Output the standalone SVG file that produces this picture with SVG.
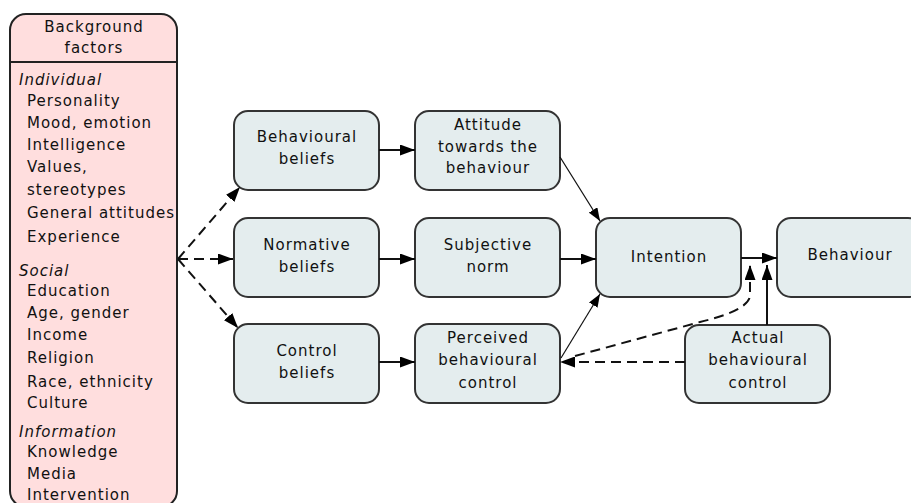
<svg xmlns="http://www.w3.org/2000/svg" width="911" height="503" viewBox="0 0 911 503">
<defs>
<marker id="ah" viewBox="0 0 15 11" refX="15" refY="5.5" markerWidth="15" markerHeight="11" markerUnits="userSpaceOnUse" orient="auto">
<path d="M0,0 L15,5.5 L0,11 z" fill="#000"/>
</marker>
<marker id="ahs" viewBox="0 0 13 10" refX="13" refY="5" markerWidth="13" markerHeight="10" markerUnits="userSpaceOnUse" orient="auto">
<path d="M0,0 L13,5 L0,10 z" fill="#000"/>
</marker>
</defs>
<style>
.node rect{fill:#e4edee;stroke:#333;stroke-width:2}
.bg{fill:#ffdede;stroke:#222;stroke-width:2}
text{font-family:"DejaVu Sans","Liberation Sans",sans-serif;font-size:15px;letter-spacing:1px;fill:#111}
.c{text-anchor:middle}
.i{font-style:italic}
.con{fill:none;stroke:#111}
.solid{stroke-width:2}
.thin{stroke-width:1.2}
.dash{stroke-width:2;stroke-dasharray:10,6}
</style>
<rect width="911" height="503" fill="#fff"/>
<g id="background-factors">
<rect class="bg" x="10" y="14" width="167" height="493" rx="16"/>
<line x1="10" y1="62" x2="177" y2="62" stroke="#222" stroke-width="2"/>
<text class="c" x="94" y="32">Background</text>
<text class="c" x="94" y="53">factors</text>
<text class="i" x="19" y="85">Individual</text>
<text x="27" y="106">Personality</text>
<text x="27" y="128">Mood, emotion</text>
<text x="27" y="150">Intelligence</text>
<text x="27" y="172">Values,</text>
<text x="27" y="195">stereotypes</text>
<text x="27" y="218">General attitudes</text>
<text x="27" y="242">Experience</text>
<text class="i" x="19" y="276">Social</text>
<text x="27" y="296">Education</text>
<text x="27" y="318">Age, gender</text>
<text x="27" y="340">Income</text>
<text x="27" y="363">Religion</text>
<text x="27" y="387">Race, ethnicity</text>
<text x="27" y="408">Culture</text>
<text class="i" x="19" y="437">Information</text>
<text x="27" y="457">Knowledge</text>
<text x="27" y="479">Media</text>
<text x="27" y="500">Intervention</text>
</g>
<g id="behavioural-beliefs" class="node">
<rect x="234" y="111" width="145" height="79" rx="14"/>
<text class="c" x="307" y="142">Behavioural</text>
<text class="c" x="307" y="164">beliefs</text>
</g>
<g id="attitude" class="node">
<rect x="415" y="111" width="145" height="79" rx="14"/>
<text class="c" x="488" y="130">Attitude</text>
<text class="c" x="488" y="152">towards the</text>
<text class="c" x="488" y="173">behaviour</text>
</g>
<g id="normative-beliefs" class="node">
<rect x="234" y="218" width="145" height="79" rx="14"/>
<text class="c" x="307" y="250">Normative</text>
<text class="c" x="307" y="272">beliefs</text>
</g>
<g id="subjective-norm" class="node">
<rect x="415" y="218" width="145" height="79" rx="14"/>
<text class="c" x="488" y="250">Subjective</text>
<text class="c" x="488" y="272">norm</text>
</g>
<g id="control-beliefs" class="node">
<rect x="234" y="324" width="145" height="79" rx="14"/>
<text class="c" x="307" y="356">Control</text>
<text class="c" x="307" y="378">beliefs</text>
</g>
<g id="perceived-control" class="node">
<rect x="415" y="324" width="145" height="79" rx="14"/>
<text class="c" x="488" y="343">Perceived</text>
<text class="c" x="488" y="365">behavioural</text>
<text class="c" x="488" y="388">control</text>
</g>
<g id="intention" class="node">
<rect x="596" y="218" width="145" height="79" rx="14"/>
<text class="c" x="669" y="262">Intention</text>
</g>
<g id="behaviour" class="node">
<rect x="777" y="218" width="145" height="79" rx="14"/>
<text class="c" x="850" y="260">Behaviour</text>
</g>
<g id="actual-control" class="node">
<rect x="685" y="325" width="145" height="78" rx="14"/>
<text class="c" x="758" y="343">Actual</text>
<text class="c" x="758" y="365">behavioural</text>
<text class="c" x="758" y="388">control</text>
</g>
<g id="connectors">
<path class="con dash" d="M178,259 L240,187" marker-end="url(#ah)"/>
<path class="con dash" d="M178,259 L233,259" marker-end="url(#ah)"/>
<path class="con dash" d="M178,259 L238,328" marker-end="url(#ah)"/>
<path class="con solid" d="M379,150 L415,150" marker-end="url(#ah)"/>
<path class="con solid" d="M379,259 L415,259" marker-end="url(#ah)"/>
<path class="con solid" d="M379,362 L415,362" marker-end="url(#ah)"/>
<path class="con thin" d="M560,157 L600,221" marker-end="url(#ahs)"/>
<path class="con solid" d="M560,259 L596,259" marker-end="url(#ah)"/>
<path class="con thin" d="M561,358 L600,294" marker-end="url(#ahs)"/>
<path class="con solid" d="M741,258 L777,258" marker-end="url(#ah)"/>
<path class="con dash" d="M685,362 L560,362" marker-end="url(#ah)"/>
<path class="con dash" d="M575,356 L700,322 Q750,310 750,295 L750,265" marker-end="url(#ah)"/>
<path class="con solid" d="M767,325 L767,265" marker-end="url(#ah)"/>
</g>
</svg>
